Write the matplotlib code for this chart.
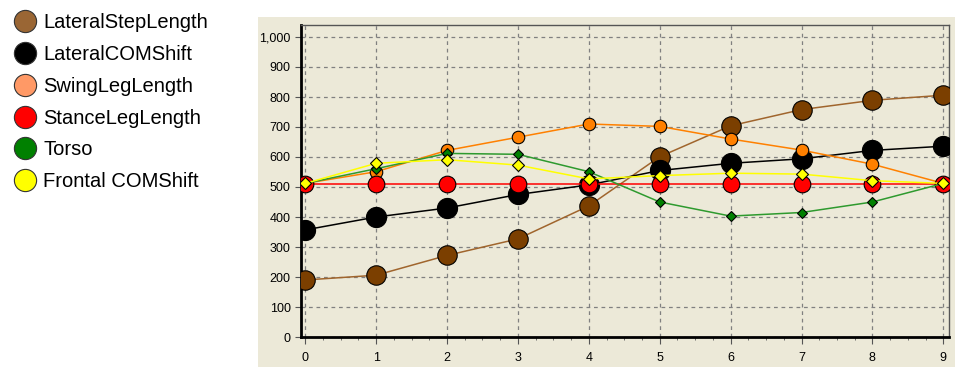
import matplotlib.pyplot as plt
from matplotlib.lines import Line2D
from matplotlib.patches import Rectangle
from matplotlib.ticker import FuncFormatter, MultipleLocator

plt.rcParams['font.family'] = ['Liberation Sans', 'DejaVu Sans']

steps = list(range(10))
lateral_step = [190, 206, 272, 327, 437, 601, 704, 758, 789, 806]
lateral_com = [357, 400, 430, 475, 507, 555, 579, 594, 622, 636]
swing_leg = [512, 551, 622, 666, 710, 702, 660, 623, 576, 512]
stance_leg = [510, 510, 510, 510, 510, 510, 510, 510, 510, 510]
torso = [512, 561, 612, 609, 551, 450, 403, 415, 450, 512]
frontal_com = [512, 579, 591, 573, 527, 538, 546, 543, 521, 512]

names = ["LateralStepLength", "LateralCOMShift", "SwingLegLength",
         "StanceLegLength", "Torso", "Frontal COMShift"]
legend_colors = ["#9A6634", "#000000", "#FF9966", "#FF0000", "#008000", "#FFFF00"]

bg = "#ECE9D8"
fig = plt.figure(figsize=(9.55, 3.67), dpi=100)
fig.patches.append(Rectangle((258 / 955, 0), 1 - 258 / 955, 350 / 367,
                             transform=fig.transFigure, facecolor=bg,
                             edgecolor="none", zorder=-1))

ax = fig.add_axes([301 / 955, 30 / 367, 648 / 955, 312 / 367])
ax.set_facecolor(bg)

# series: (values, line colour, marker, marker colour, size)
series = [
    (lateral_step, "#A0652D", "o", "#7B3F00", 14),
    (lateral_com, "#000000", "o", "#000000", 14.5),
    (swing_leg, "#FF8000", "o", "#FF8000", 9),
    (stance_leg, "#FF0000", "o", "#FF0000", 12),
    (torso, "#2E9A2E", "D", "#008000", 5),
    (frontal_com, "#FFFF00", "D", "#FFFF00", 6),
]
for i, (vals, lc, mk, mc, ms) in enumerate(series):
    ax.plot(steps, vals, color=lc, lw=1.1, marker=mk, markersize=ms,
            markerfacecolor=mc, markeredgecolor="black", markeredgewidth=0.8,
            zorder=3 + i)

ax.set_xlim(-0.06, 9.08)
ax.set_ylim(0, 1040)
ax.xaxis.set_major_locator(MultipleLocator(1))
ax.xaxis.set_minor_locator(MultipleLocator(0.25))
ax.yaxis.set_major_locator(MultipleLocator(100))
ax.yaxis.set_major_formatter(FuncFormatter(lambda v, p: f"{int(v):,}"))
ax.grid(True, which="major", color="#808080", linestyle=(0, (3, 3)), lw=0.9)
ax.tick_params(axis="both", which="major", labelsize=9, length=4, color="#555555")
ax.tick_params(axis="x", which="major", length=5, pad=6)
ax.tick_params(axis="x", which="minor", length=2.5, color="#555555")

for side in ("left", "bottom"):
    ax.spines[side].set_linewidth(2)
    ax.spines[side].set_color("black")
for side in ("top", "right"):
    ax.spines[side].set_linewidth(1)
    ax.spines[side].set_color("#555555")

handles = [Line2D([], [], ls="none", marker="o", markersize=16,
                  markerfacecolor=c, markeredgecolor="#333333", markeredgewidth=0.8)
           for c in legend_colors]
fig.legend(handles, names, loc="upper left", bbox_to_anchor=(0.003, 0.995),
           frameon=False, fontsize=14.5, handletextpad=0.35, labelspacing=0.64,
           borderaxespad=0.15, handlelength=1.1)

fig.savefig("out.png", dpi=100)
